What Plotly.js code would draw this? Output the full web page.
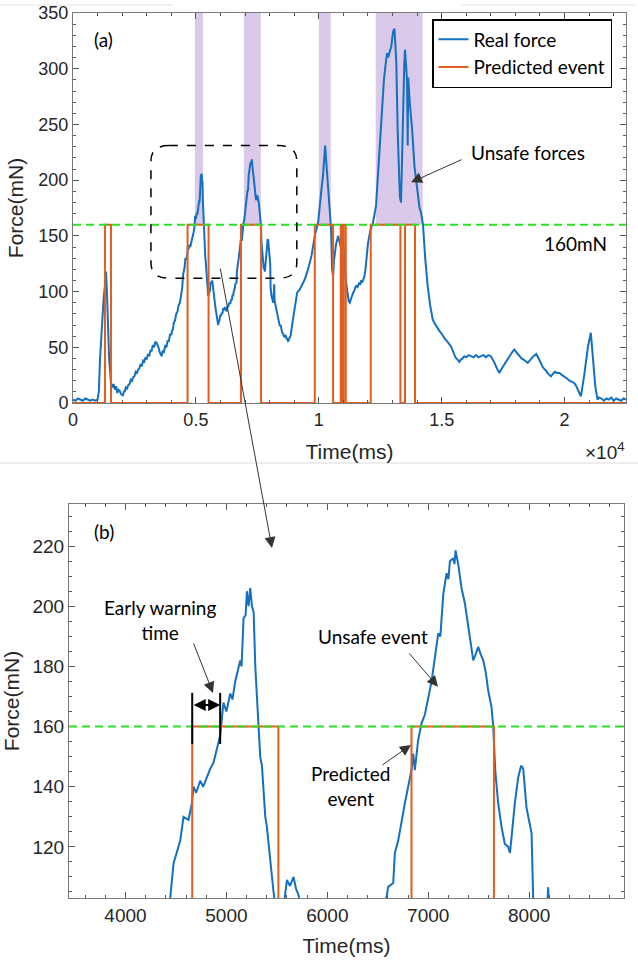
<!DOCTYPE html>
<html><head><meta charset="utf-8">
<script src="https://cdn.plot.ly/plotly-3.0.1.min.js"></script>
<style>html,body{margin:0;padding:0;background:#fff}#chart{width:638px;height:960px}</style>
</head><body><div id="chart"></div>
<script>
// ---- data ----
const timeMs = [0,100,200,300,400,500,600,700,800,900,1000,1050,1100,1150,1200,1250,1300,1341,1380,1420,1470,1545,
1600,1650,1700,1750,1800,1850,1900,1950,2033,2080,2100,2150,2200,2250,2300,2350,2400,2450,2500,2550,2600,2650,2700,2750,2800,2850,2900,2950,2995,3050,3100,3150,3200,3250,3300,3350,3400,3440,3480,3520,3550,3605,3650,3700,3750,3800,3850,3900,3950,4000,4030,4066,4100,4150,4200,4250,4300,4350,4400,
4443,4476,4510,4542,4575,4624,4658,4674,4700,4740,4770,4806,4840,4872,4905,4938,4971,5000,5038,5060,5087,5110,5137,5150,5170,5190,5203,5220,5236,5253,5270,5286,5300,5319,5335,5352,5370,5385,5400,5417,5440,5467,5500,5540,5570,5600,5630,5665,5690,5715,
5760,5800,5830,5850,5880,5907,5930,5960,5990,6020,6050,6080,6110,6150,6180,6200,6230,6250,6280,6313,6350,6400,6430,6460,6490,6516,6540,6560,
6587,6603,6653,6669,6702,6735,6768,6801,6834,6851,6867,6900,6933,6967,7000,7033,7066,7099,7120,7149,7182,7200,7215,7248,7260,7271,7297,7330,7363,7396,7420,7446,7470,7495,7520,7545,7570,7594,7627,7644,7665,7693,7726,7759,7792,7810,7825,7858,7891,7920,7941,7974,8024,8040,8076,8150,8170,8189,
8200,8250,8300,8350,8415,8450,8500,8550,8600,8650,8700,8730,8753,8800,8850,8950,9050,9120,9228,9330,9431,9550,9703,9837,9973,10100,10176,10258,10320,10433,10500,10540,10582,10620,10700,10785,10850,10920,10989,11050,11100,
11191,11220,11260,11300,11350,11400,11450,11490,11532,11580,11650,11690,11720,11760,11803,11850,11900,12005,12100,12207,12330,12450,12550,12650,12736,12780,12820,12873,12950,13020,13077,13120,13155,13212,13260,13300,13346,13390,13440,13480,13509,13550,13590,13618,13640,13700,13800,13890,14000,14100,14160,14240,14330,14430,14530,
14634,14700,14750,14800,14850,14900,14972,15030,15100,15150,15200,15250,15300,15378,15440,15500,15560,15600,15660,15720,15780,15850,15920,16000,16100,16190,16300,16400,16500,16600,16700,16800,16900,17003,17080,17150,17250,17344,17420,17500,17580,17650,17720,17800,17880,17954,18030,18100,18180,18250,18330,18400,18450,18500,18580,18650,18730,18800,18850,18900,18980,19050,19120,19200,19250,19300,19370,19443,19520,19600,19700,19800,19900,19987,20100,20200,20300,20394,20480,20550,20620,20665,
20800,20950,21070,21150,21250,21341,21400,21500,21600,21700,21800,21900,22000,22100,22200,22300,22400,22500];
const forceMN = [3,2,4,3,2,4,3,2,3,2,3,10,40,60,75,95,105,118,100,70,40,18,
14,17,12,15,9,12,11,8,7,11,10,14,13,16,17,21,20,23,24,28,27,30,31,35,33,38,37,41,39,44,42,47,47,52,50,55,54,52,50,46,44,42,47,46,51,50,56,55,62,61,65,66,72,74,80,82,88,90,97,
103,114.5,118,122,130,129,134.5,140,138,142,140,143,146,148,153,157,168,165,171,169,175,178,182,180,196,197,205,200,206,200,198,180,170,160,150,147,138,130,127,121,113,105,96,99,101,109,107,110,106,104,
92,85,80,76,72,70,73,74,79,78,81,80,85,84,86,83,85,82,87,86,90,89,93,92,97,96,100,101,
103.4,106.7,108,118,122,129,134.5,140,145.5,151,145.5,155.5,161,164,170,175,183,191,190,204,211,209,215,216,214,218.6,214,206,201,193,188,182,184,186.5,184,182,178,172,166.5,160,145,134.5,126.7,121,120,118,123,134.5,143,147,146,133,124.5,103,96,90,95,106.6,
92,86,80,74,69,70,64,62,59,61,57,58,55,58,60,75,92,99,102,107,111,119,132,150,162,190,205,231,212,183,156,120,114,128,142,150,145,138,144,130,110,
93,91,90,94,96,99,101,104,105,104,108,106,110,108,111,113,120,144,155,162,177,220,260,290,307,314,310,315,320,333,336,320,305,243,200,185,180,230,290,305,317,305,290,231,292,270,245,213,190,175,171,160,130,105,88,
75,72,70,68,66,65,63,61,58,57,56,54,53,51,47,44,41,40,38,37,39,40,42,41,43,42,41,43,41,42,43,41,43,42,39,36,31,27,30,33,35,38,41,44,46,48,46,44,42,40,39,38,37,36,38,40,42,43,44,42,38,34,32,30,29,27,25,24,26,28,27,27,25,24,22,20,19,18,15,12,8,6,
25,50,63,40,15,3,5,4,2,4,3,5,2,4,3,2,4,3];
const eventStartMs = [1300, 4661, 6834, 9837, 10894, 11010, 12114, 13509];
const eventEndMs   = [1545, 5515, 7651, 10582, 10970, 11097, 13321, 13915];
const unsafeStartMs = [4959, 6951, 10000, 12317];
const unsafeEndMs   = [5285, 7642, 10488, 14228];
const thresholdMN = 160;
const warningStartMs = 4661, warningEndMs = 4938;
const zoomBoxMs = [3171, 9106], zoomBoxMN = [112, 231];
const xTickValsA = [0, 5000, 10000, 15000, 20000];
const xTickTextA = ['0', '0.5', '1', '1.5', '2'];

// ---- derived step series for predicted events ----
const evX = [0], evY = [0];
eventStartMs.forEach((s, i) => { evX.push(s, s, eventEndMs[i], eventEndMs[i]); evY.push(0, thresholdMN, thresholdMN, 0); });
evX.push(22500); evY.push(0);

const blue = '#1470c0', orange = '#e35d1e', green = '#2be02b';
const fam = 'Liberation Sans, Arial, sans-serif';
const tickFontA = {family: fam, size: 18, color: '#262626'};
const tickFontB = {family: fam, size: 19, color: '#262626'};
const titleFont = {family: fam, size: 21, color: '#262626'};
const txtFont = {family: 'Lato, sans-serif', size: 19, color: '#000'};

function axis(extra) {
  return Object.assign({showline: true, linecolor: '#7a7a7a', linewidth: 1, mirror: 'allticks', ticks: 'inside', ticklen: 6,
    tickcolor: '#555', tickwidth: 1, showgrid: false, zeroline: false, automargin: false, fixedrange: true}, extra);
}

const traces = [
  {x: timeMs, y: forceMN, xaxis: 'x', yaxis: 'y', type: 'scatter', mode: 'lines', name: 'Real force',
   line: {color: blue, width: 2}},
  {x: evX, y: evY, xaxis: 'x', yaxis: 'y', type: 'scatter', mode: 'lines', name: 'Predicted event',
   line: {color: orange, width: 2}},
  {x: timeMs, y: forceMN, xaxis: 'x2', yaxis: 'y2', type: 'scatter', mode: 'lines', showlegend: false,
   line: {color: blue, width: 2}},
  {x: evX, y: evY, xaxis: 'x2', yaxis: 'y2', type: 'scatter', mode: 'lines', showlegend: false,
   line: {color: orange, width: 2}}
];

const shapes = [];
unsafeStartMs.forEach((s, i) => shapes.push({type: 'rect', xref: 'x', yref: 'y', x0: s, x1: unsafeEndMs[i], y0: thresholdMN, y1: 350,
  fillcolor: 'rgb(218,201,232)', line: {width: 0}, layer: 'below'}));
shapes.push({type: 'line', xref: 'x', yref: 'y', x0: 0, x1: 22500, y0: thresholdMN, y1: thresholdMN, line: {color: green, width: 2, dash: '8px,5px'}});
shapes.push({type: 'line', xref: 'x2', yref: 'y2', x0: 3440, x1: 8940, y0: thresholdMN, y1: thresholdMN, line: {color: green, width: 2, dash: '8px,5px'}});
// rounded dashed zoom box
(function () {
  const x0 = zoomBoxMs[0], x1 = zoomBoxMs[1], y0 = zoomBoxMN[0], y1 = zoomBoxMN[1], rx = 730, ry = 14;
  const p = `M${x0+rx},${y1} L${x1-rx},${y1} Q${x1},${y1} ${x1},${y1-ry} L${x1},${y0+ry} Q${x1},${y0} ${x1-rx},${y0} L${x0+rx},${y0} Q${x0},${y0} ${x0},${y0+ry} L${x0},${y1-ry} Q${x0},${y1} ${x0+rx},${y1} Z`;
  shapes.push({type: 'path', xref: 'x', yref: 'y', path: p, line: {color: '#000', width: 1.5, dash: 'dash'}});
})();
// early warning bars
[warningStartMs, warningEndMs].forEach(t => shapes.push({type: 'line', xref: 'x2', yref: 'y2', x0: t, x1: t, y0: 154.2, y1: 171.2, line: {color: '#000', width: 2}}));
// faint screenshot separators
shapes.push({type: 'line', xref: 'paper', yref: 'paper', x0: 0, x1: 1, y0: 1 - 463/960, y1: 1 - 463/960, line: {color: '#dcdcdc', width: 1}});
shapes.push({type: 'line', xref: 'paper', yref: 'paper', x0: 0, x1: 173/638, y0: 1 - 5/960, y1: 1 - 5/960, line: {color: '#e4e4e4', width: 1}});
shapes.push({type: 'line', xref: 'paper', yref: 'paper', x0: 461/638, x1: 635/638, y0: 1 - 5/960, y1: 1 - 5/960, line: {color: '#e4e4e4', width: 1}});

const arrow = {showarrow: true, arrowhead: 2, arrowsize: 2.2, arrowwidth: 1, arrowcolor: '#333', text: ''};
const annotations = [
  {xref: 'x', yref: 'y', x: 1261, y: 326, text: '(a)', showarrow: false, font: txtFont},
  {xref: 'x', yref: 'y', x: 18514, y: 225, text: 'Unsafe forces', showarrow: false, font: txtFont},
  Object.assign({xref: 'x', yref: 'y', x: 13753, y: 198, axref: 'x', ayref: 'y', ax: 15869, ay: 219}, arrow),
  {xref: 'x', yref: 'y', x: 20426, y: 143, text: '160mN', showarrow: false, font: txtFont},
  Object.assign({xref: 'paper', yref: 'paper', x: 272/638, y: 1 - 548/960, ax: -52, ay: -281}, arrow),
  {xref: 'x2', yref: 'y2', x: 3787, y: 224.7, text: '(b)', showarrow: false, font: txtFont},
  {xref: 'x2', yref: 'y2', x: 4342, y: 195.4, text: 'Early warning<br>time', showarrow: false, font: txtFont},
  Object.assign({xref: 'x2', yref: 'y2', x: 4867, y: 171.2, axref: 'x2', ayref: 'y2', ax: 4669, ay: 188.1}, arrow),
  {xref: 'x2', yref: 'y2', x: warningEndMs, y: 167.2, axref: 'x2', ayref: 'y2', ax: warningStartMs, ay: 167.2, text: '', showarrow: true,
   arrowhead: 2, startarrowhead: 2, arrowside: 'end+start', arrowsize: 1.2, startarrowsize: 1.2, arrowwidth: 2, arrowcolor: '#000'},
  {xref: 'x2', yref: 'y2', x: 6453, y: 190.1, text: 'Unsafe event', showarrow: false, font: txtFont},
  Object.assign({xref: 'x2', yref: 'y2', x: 7097, y: 173.2, axref: 'x2', ayref: 'y2', ax: 6800, ay: 184.8}, arrow),
  {xref: 'x2', yref: 'y2', x: 6235, y: 140.2, text: 'Predicted<br>event', showarrow: false, font: txtFont},
  Object.assign({xref: 'x2', yref: 'y2', x: 6829, y: 153.9, axref: 'x2', ayref: 'y2', ax: 6532, ay: 146.9}, arrow),
  {xref: 'paper', yref: 'paper', x: 627/638, y: 1 - 451/960, xanchor: 'right', text: '×10<sup>4</sup>', showarrow: false,
   font: {family: fam, size: 19, color: '#262626'}}
];

const layout = {
  width: 638, height: 960, margin: {l: 0, r: 0, t: 0, b: 0}, paper_bgcolor: '#fff', plot_bgcolor: '#fff',
  showlegend: true,
  legend: {x: 432/638, y: 1 - 19/960, xanchor: 'left', yanchor: 'top', bordercolor: '#000', borderwidth: 1.5, bgcolor: '#fff',
    font: txtFont, itemwidth: 30, tracegroupgap: 0},
  xaxis: axis({domain: [73/638, 626/638], range: [0, 22500], tickmode: 'array', tickvals: xTickValsA, ticktext: xTickTextA, tickfont: tickFontA,
    minor: {tickmode: 'linear', tick0: 0, dtick: 1000, ticks: 'inside', ticklen: 3, tickcolor: '#555'},
    title: {text: 'Time(ms)', font: titleFont, standoff: 15}, anchor: 'y'}),
  yaxis: axis({domain: [1 - 403/960, 1 - 13/960], range: [0, 350], dtick: 50, tick0: 0, tickfont: tickFontA,
    minor: {dtick: 10, ticks: 'inside', ticklen: 3, tickcolor: '#555'},
    title: {text: 'Force(mN)', font: titleFont, standoff: 9}, anchor: 'x'}),
  xaxis2: axis({domain: [69/638, 624/638], range: [3440, 8940], dtick: 1000, tick0: 0, tickformat: 'd', tickfont: tickFontB,
    minor: {dtick: 200, ticks: 'inside', ticklen: 3, tickcolor: '#555'},
    title: {text: 'Time(ms)', font: titleFont, standoff: 13}, anchor: 'y2'}),
  yaxis2: axis({domain: [1 - 898/960, 1 - 504/960], range: [103, 234], dtick: 20, tick0: 0, tickfont: tickFontB,
    minor: {dtick: 5, ticks: 'inside', ticklen: 3, tickcolor: '#555'},
    title: {text: 'Force(mN)', font: titleFont, standoff: 10}, anchor: 'x2'}),
  shapes: shapes, annotations: annotations
};

Plotly.newPlot('chart', traces, layout, {staticPlot: true, displayModeBar: false});
</script></body></html>
